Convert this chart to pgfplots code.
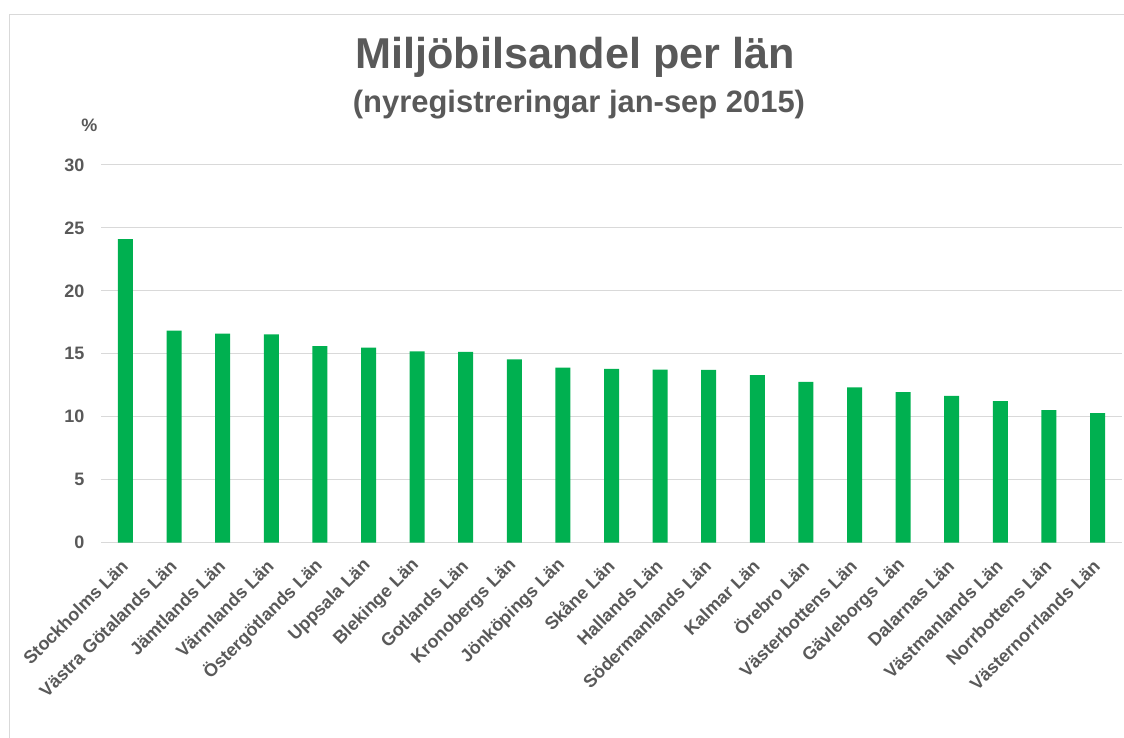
\documentclass[border=0pt]{standalone}
\usepackage{fontspec}
\setmainfont{Liberation Sans}
\usepackage{pgfplots}
\pgfplotsset{compat=1.18}
\definecolor{txtcol}{HTML}{595959}
\definecolor{gridcol}{HTML}{D9D9D9}
\definecolor{barcol}{HTML}{00B050}
\begin{document}
\begin{tikzpicture}
\path[use as bounding box] (0,0) rectangle (843pt,553.5pt);
\draw[gridcol, line width=0.75pt] (7pt,0) -- (7pt,542.25pt) -- (843pt,542.25pt);
\node[anchor=base, text=txtcol, font=\fontsize{32.4}{38}\selectfont\bfseries] at (431.25pt,502pt) {Miljöbilsandel per län};
\node[anchor=base, text=txtcol, font=\fontsize{23.2}{27}\selectfont\bfseries] at (434.25pt,468.75pt) {(nyregistreringar jan-sep 2015)};
\node[anchor=base, text=txtcol, font=\fontsize{13.5}{15}\selectfont\bfseries] at (67pt,454.5pt) {\%};
\begin{axis}[
  at={(75.9pt,146.5pt)}, anchor=south west,
  scale only axis, width=765.45pt, height=283.3pt,
  xmin=-0.5, xmax=20.5, ymin=0, ymax=30,
  ytick={0,5,...,30},
  xtick={0,...,20},
  xticklabels={Stockholms Län, Västra Götalands Län, Jämtlands Län, Värmlands Län, Östergötlands Län, Uppsala Län, Blekinge Län, Gotlands Län, Kronobergs Län, Jönköpings Län, Skåne Län, Hallands Län, Södermanlands Län, Kalmar Län, Örebro Län, Västerbottens Län, Gävleborgs Län, Dalarnas Län, Västmanlands Län, Norrbottens Län, Västernorrlands Län},
  axis line style={draw=none},
  axis x line*=bottom, axis y line*=left,
  x axis line style={draw=gridcol, line width=0.75pt},
  major tick length=0pt,
  xmajorgrids=false,
  ymajorgrids=true, grid style={draw=gridcol, line width=0.75pt},
  /pgf/number format/assume math mode=true,
  yticklabel style={font=\fontsize{13.5}{15}\selectfont\bfseries, text=txtcol, inner sep=0pt, xshift=-12.4pt},
  xticklabel style={font=\fontsize{13.5}{15}\selectfont\bfseries, text=txtcol, inner sep=0pt, yshift=-15pt, xshift=-0.5pt, rotate=45, anchor=east},
  ybar, bar width=11.25pt,
  clip=false,
]
\addplot[fill=barcol, draw=none] coordinates {
(0,24.1) (1,16.85) (2,16.6) (3,16.55) (4,15.6) (5,15.5) (6,15.2) (7,15.15) (8,14.55) (9,13.9) (10,13.8) (11,13.75) (12,13.72) (13,13.3) (14,12.77) (15,12.33) (16,11.95) (17,11.65) (18,11.25) (19,10.53) (20,10.28)
};
\end{axis}
\end{tikzpicture}
\end{document}
